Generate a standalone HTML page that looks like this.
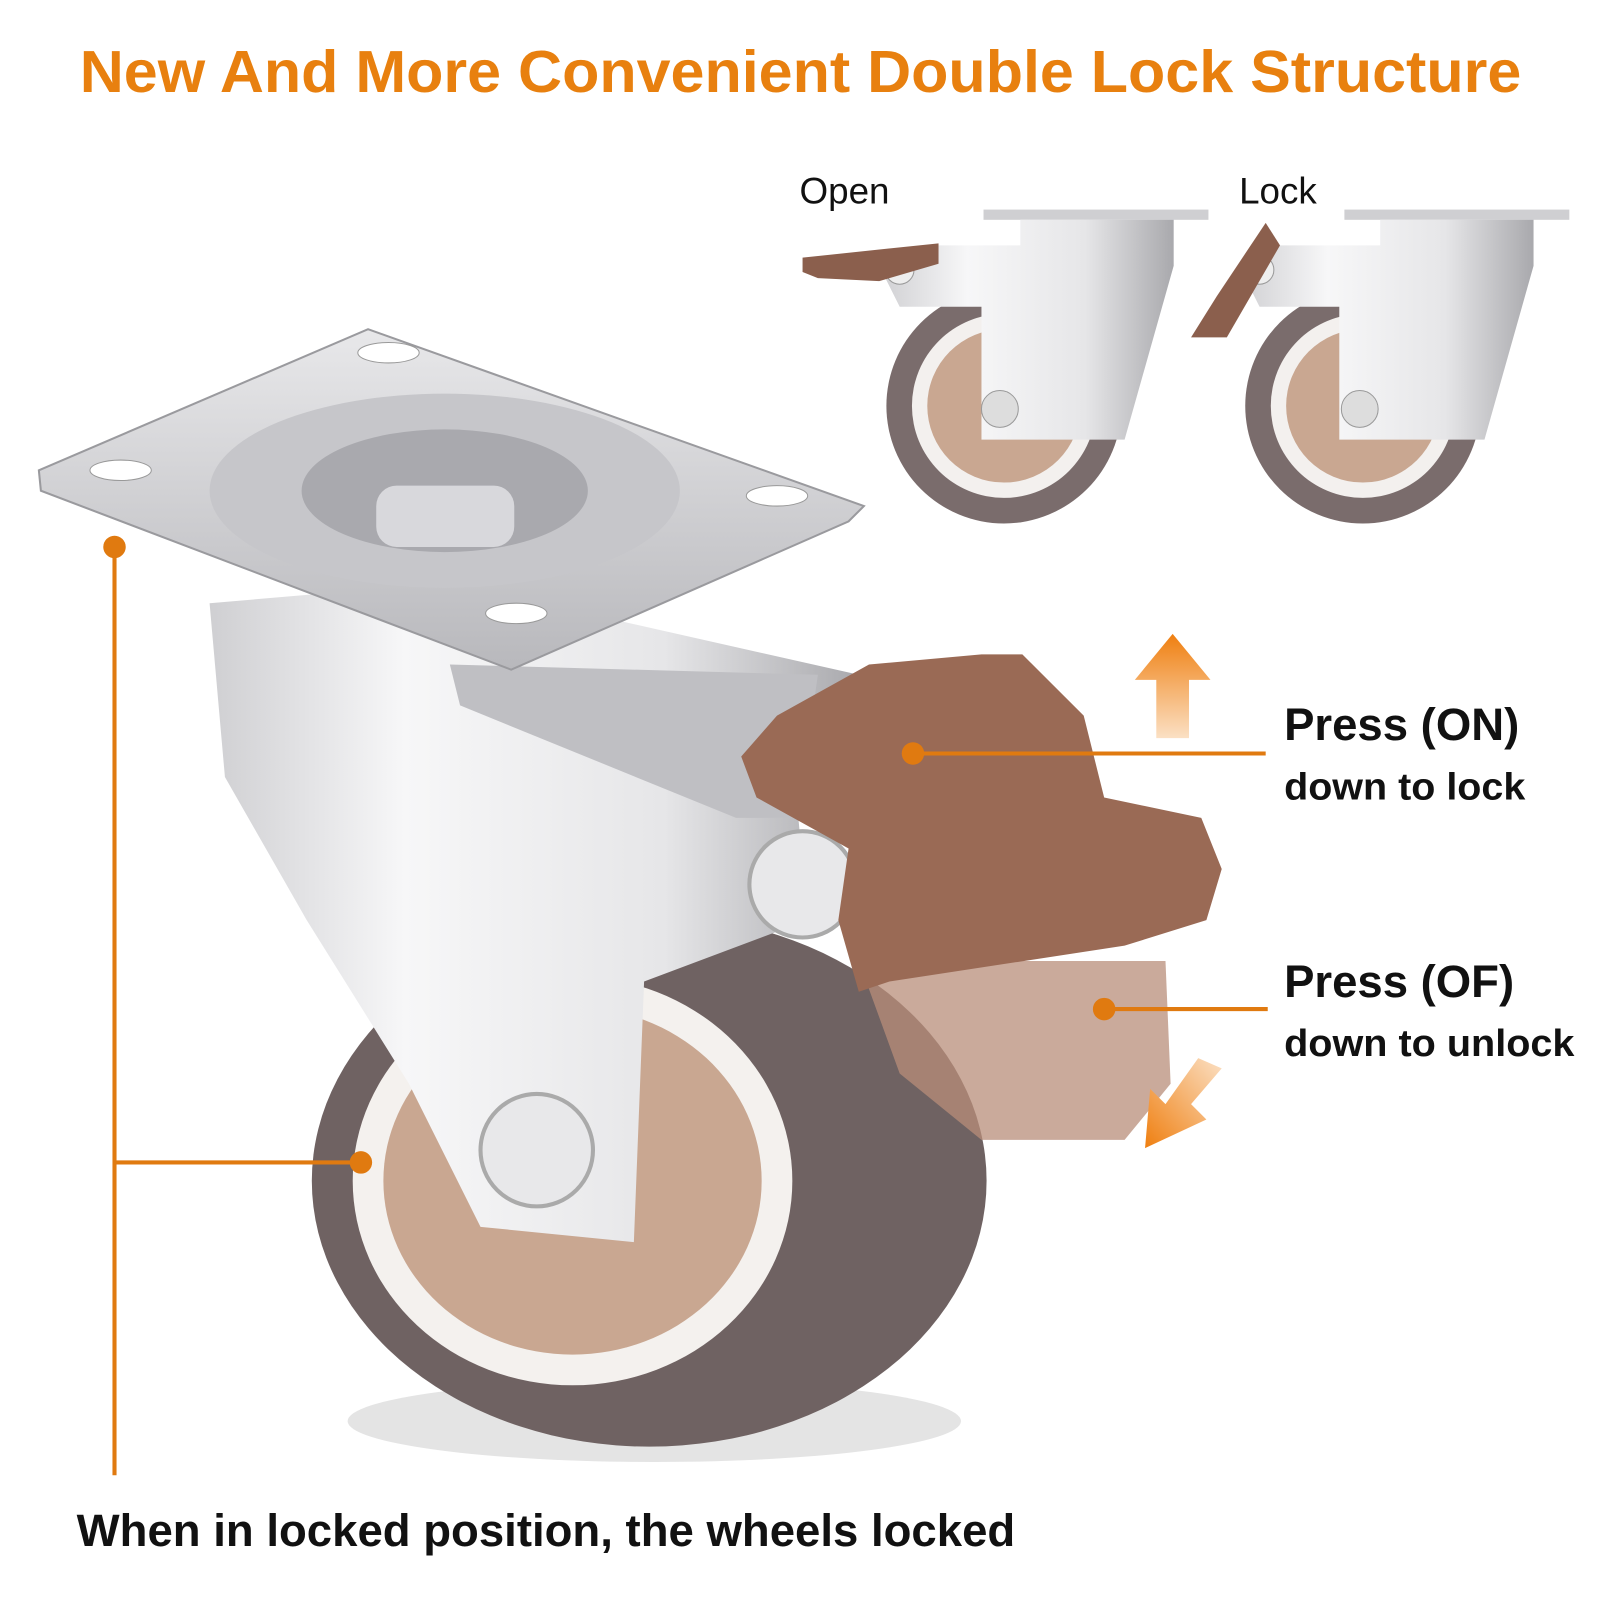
<!DOCTYPE html>
<html><head><meta charset="utf-8"><style>
html,body{margin:0;padding:0;background:#fff;}
svg{display:block;}
text{font-family:"Liberation Sans",Arial,sans-serif;}
</style></head><body>
<svg width="1600" height="1600" viewBox="0 0 1565 1565" xmlns="http://www.w3.org/2000/svg">
<defs>
<linearGradient id="chrome" x1="0" y1="0" x2="1" y2="0">
<stop offset="0" stop-color="#cfcfd2"/><stop offset="0.3" stop-color="#f7f7f8"/><stop offset="0.7" stop-color="#e6e6e8"/><stop offset="1" stop-color="#a9a9ad"/></linearGradient>
<linearGradient id="plate" x1="0" y1="0" x2="0" y2="1">
<stop offset="0" stop-color="#e8e8ea"/><stop offset="1" stop-color="#b8b8bc"/></linearGradient>
<linearGradient id="up" x1="0" y1="0" x2="0" y2="1"><stop offset="0" stop-color="#ef7f10"/><stop offset="1" stop-color="#fbe0c4"/></linearGradient>
<linearGradient id="dn" x1="1" y1="0" x2="0" y2="1"><stop offset="0" stop-color="#fbe0c4"/><stop offset="1" stop-color="#ef7f10"/></linearGradient>
</defs>
<rect width="1565" height="1565" fill="#fff"/>
<text x="78" y="90" textLength="1410" lengthAdjust="spacingAndGlyphs" font-size="58" font-weight="bold" fill="#e8800f">New And More Convenient Double Lock Structure</text>

<text x="782" y="199" font-size="36" fill="#111">Open</text>
<text x="1212" y="199" font-size="36" fill="#111">Lock</text>
<g>
<circle cx="982" cy="397" r="115" fill="#7a6c6c"/><circle cx="982" cy="397" r="90" fill="#f3f0ee"/><circle cx="982" cy="397" r="75" fill="#c9a791"/>
<rect x="962" y="205" width="220" height="10" fill="#cfcfd2"/>
<path d="M998 215 L1148 215 L1148 260 L1100 430 L960 430 L960 300 L880 300 L860 260 L900 240 L998 240Z" fill="url(#chrome)"/>
<circle cx="978" cy="400" r="18" fill="#ddd" stroke="#999"/>
<circle cx="880" cy="264" r="14" fill="#eee" stroke="#999"/>
<path d="M785 252 L918 238 L918 258 L860 275 L800 272 L785 266Z" fill="#8b5f4d"/>
</g>
<g>
<circle cx="1333" cy="397" r="115" fill="#7a6c6c"/><circle cx="1333" cy="397" r="90" fill="#f3f0ee"/><circle cx="1333" cy="397" r="75" fill="#c9a791"/>
<rect x="1315" y="205" width="220" height="10" fill="#cfcfd2"/>
<path d="M1350 215 L1500 215 L1500 260 L1452 430 L1310 430 L1310 300 L1232 300 L1212 260 L1252 240 L1350 240Z" fill="url(#chrome)"/>
<circle cx="1330" cy="400" r="18" fill="#ddd" stroke="#999"/>
<circle cx="1232" cy="264" r="14" fill="#eee" stroke="#999"/>
<path d="M1238 218 L1252 240 L1200 330 L1165 330 L1190 290Z" fill="#8b5f4d"/>
</g>

<ellipse cx="640" cy="1390" rx="300" ry="40" fill="#e4e4e4"/>
<ellipse cx="635" cy="1155" rx="330" ry="260" fill="#6f6262"/>
<ellipse cx="560" cy="1155" rx="215" ry="200" fill="#f4f1ee"/>
<ellipse cx="560" cy="1155" rx="185" ry="170" fill="#c9a791"/>
<path d="M205 590 L440 570 L840 660 L780 790 L790 900 L630 960 L620 1215 L470 1200 L400 1060 L300 900 L220 760Z" fill="url(#chrome)"/>
<path d="M440 650 L800 660 L780 800 L720 800 L450 690Z" fill="#bfbfc3"/>
<circle cx="525" cy="1125" r="55" fill="#e8e8ea" stroke="#aaa" stroke-width="4"/>
<circle cx="785" cy="865" r="52" fill="#e8e8ea" stroke="#aaa" stroke-width="4"/>
<path d="M38 460 L360 322 L845 495 L830 510 L500 655 L40 480Z" fill="url(#plate)" stroke="#9a9a9e" stroke-width="2"/>
<ellipse cx="435" cy="480" rx="230" ry="95" fill="#c6c6ca"/>
<ellipse cx="435" cy="480" rx="140" ry="60" fill="#a9a9ae"/>
<rect x="368" y="475" width="135" height="60" rx="20" fill="#d8d8dc"/>
<ellipse cx="118" cy="460" rx="30" ry="10" fill="#fff" stroke="#999"/>
<ellipse cx="380" cy="345" rx="30" ry="10" fill="#fff" stroke="#999"/>
<ellipse cx="760" cy="485" rx="30" ry="10" fill="#fff" stroke="#999"/>
<ellipse cx="505" cy="600" rx="30" ry="10" fill="#fff" stroke="#999"/>
<path d="M840 940 L1140 940 L1145 1060 L1100 1115 L960 1115 L880 1050Z" fill="#b88d7a" opacity="0.75"/>
<path d="M760 700 L850 650 L960 640 L1000 640 L1060 700 L1080 780 L1175 800 L1195 850 L1180 900 L1100 925 L870 960 L840 970 L820 900 L830 830 L740 780 L725 740Z" fill="#9a6a55"/>

<path d="M1110 665 L1147 620 L1184 665 L1163 665 L1163 722 L1131 722 L1131 665Z" fill="url(#up)"/>
<path d="M1195 1045 L1165 1080 L1180 1095 L1120 1123 L1125 1065 L1140 1080 L1172 1035Z" fill="url(#dn)"/>

<g stroke="#e07a10" stroke-width="4" fill="none">
<line x1="893" y1="737" x2="1238" y2="737"/>
<line x1="1080" y1="987" x2="1240" y2="987"/>
<line x1="112" y1="535" x2="112" y2="1443"/>
<line x1="112" y1="1137" x2="353" y2="1137"/>
</g>
<g fill="#e07a10">
<circle cx="893" cy="737" r="11"/><circle cx="1080" cy="987" r="11"/>
<circle cx="112" cy="535" r="11"/><circle cx="353" cy="1137" r="11"/>
</g>
<g font-weight="bold" fill="#111">
<text x="1256" y="724" font-size="44" textLength="230" lengthAdjust="spacingAndGlyphs">Press (ON)</text>
<text x="1256" y="782" font-size="37" textLength="236" lengthAdjust="spacingAndGlyphs">down to lock</text>
<text x="1256" y="975" font-size="44" textLength="225" lengthAdjust="spacingAndGlyphs">Press (OF)</text>
<text x="1256" y="1033" font-size="37" textLength="284" lengthAdjust="spacingAndGlyphs">down to unlock</text>
<text x="75" y="1512" font-size="44" textLength="918" lengthAdjust="spacingAndGlyphs">When in locked position, the wheels locked</text>
</g>
</svg>
</body></html>
